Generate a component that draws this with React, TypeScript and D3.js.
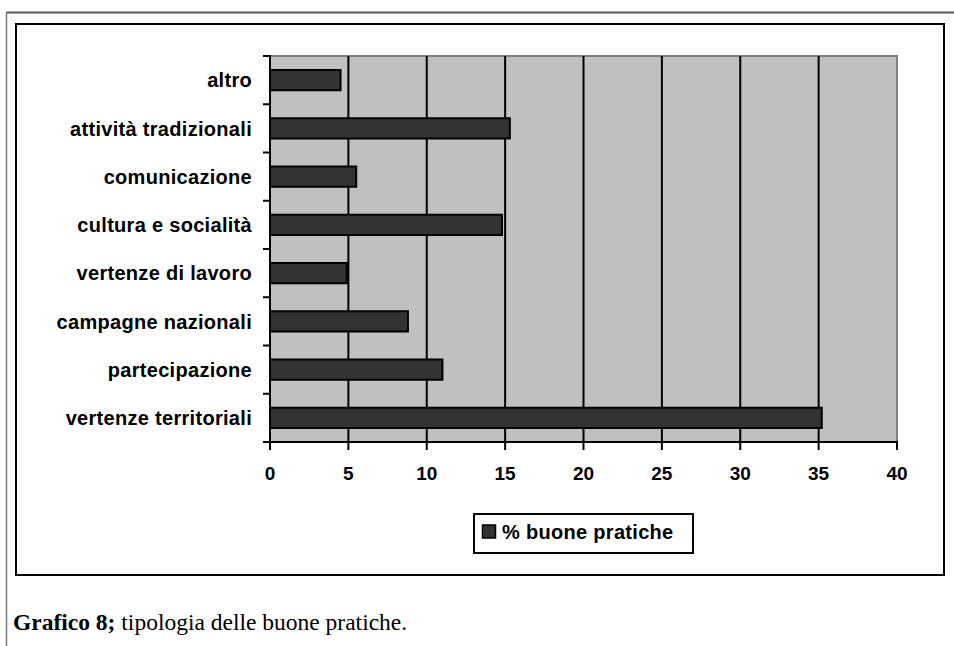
import { useEffect, useRef } from 'react';
import * as d3 from 'd3';

// categories, top to bottom as drawn
const categories = [
  'altro',
  'attività tradizionali',
  'comunicazione',
  'cultura e socialità',
  'vertenze di lavoro',
  'campagne nazionali',
  'partecipazione',
  'vertenze territoriali',
];

const values = [4.5, 15.3, 5.5, 14.8, 4.9, 8.8, 11.0, 35.2];

const xTicks = [0, 5, 10, 15, 20, 25, 30, 35, 40];

const seriesName = '% buone pratiche';

const W = 954;
const H = 646;
const SANS = 'Arial, "Liberation Sans", sans-serif';
const SERIF = '"Times New Roman", "Liberation Serif", serif';

function Chart() {
  const svgRef = useRef<SVGSVGElement>(null);

  useEffect(() => {
    if (!svgRef.current) return;
    const svg = d3.select(svgRef.current);
    svg.selectAll('*').remove();

    const plot = { left: 270, right: 897, top: 56, bottom: 442 };

    // outer page frame
    svg.append('line')
      .attr('x1', 6.5).attr('x2', W).attr('y1', 12.5).attr('y2', 12.5)
      .attr('stroke', '#555').attr('stroke-width', 2);
    svg.append('line')
      .attr('x1', 6.5).attr('x2', 6.5).attr('y1', 12).attr('y2', H)
      .attr('stroke', '#777').attr('stroke-width', 1.5);

    // chart frame
    svg.append('rect')
      .attr('x', 16).attr('y', 24)
      .attr('width', 944 - 16).attr('height', 575 - 24)
      .attr('fill', '#fff').attr('stroke', '#000').attr('stroke-width', 2);

    const xScale = d3.scaleLinear().domain([0, 40]).range([plot.left, plot.right]);
    const yScale = d3.scaleBand().domain(categories).range([plot.top, plot.bottom]).padding(0);
    const step = yScale.step();
    const barH = step * 0.42;

    // plot area
    svg.append('rect')
      .attr('x', plot.left).attr('y', plot.top)
      .attr('width', plot.right - plot.left).attr('height', plot.bottom - plot.top)
      .attr('fill', '#c0c0c0');
    svg.append('path')
      .attr('d', `M${plot.left},${plot.top}H${plot.right}V${plot.bottom}`)
      .attr('fill', 'none').attr('stroke', '#808080').attr('stroke-width', 2);

    // grid lines
    svg.selectAll('line.grid')
      .data(xTicks.filter((d) => d > 0 && d < 40))
      .join('line')
      .attr('class', 'grid')
      .attr('x1', (d) => xScale(d)).attr('x2', (d) => xScale(d))
      .attr('y1', plot.top).attr('y2', plot.bottom)
      .attr('stroke', '#000').attr('stroke-width', 2);

    // bars
    svg.selectAll('rect.bar')
      .data(categories)
      .join('rect')
      .attr('class', 'bar')
      .attr('x', xScale(0))
      .attr('y', (d) => (yScale(d) || 0) + (step - barH) / 2)
      .attr('width', (d, i) => xScale(values[i]) - xScale(0))
      .attr('height', barH)
      .attr('fill', '#333333')
      .attr('stroke', '#000').attr('stroke-width', 2);

    // y axis
    svg.append('line')
      .attr('x1', plot.left).attr('x2', plot.left)
      .attr('y1', plot.top - 1).attr('y2', plot.bottom + 1)
      .attr('stroke', '#000').attr('stroke-width', 2);
    const yBounds = categories.map((c) => yScale(c) || 0).concat([plot.bottom]);
    svg.selectAll('line.ytick')
      .data(yBounds)
      .join('line')
      .attr('class', 'ytick')
      .attr('x1', plot.left - 7).attr('x2', plot.left)
      .attr('y1', (d) => d).attr('y2', (d) => d)
      .attr('stroke', '#000').attr('stroke-width', 2);
    svg.selectAll('text.ylab')
      .data(categories)
      .join('text')
      .attr('class', 'ylab')
      .attr('x', 252)
      .attr('y', (d) => (yScale(d) || 0) + step / 2)
      .attr('dy', '0.36em')
      .attr('text-anchor', 'end')
      .attr('font-family', SANS).attr('font-weight', 'bold').attr('font-size', 20)
      .attr('letter-spacing', 0.3)
      .attr('fill', '#000')
      .text((d) => d);

    // x axis
    svg.append('line')
      .attr('x1', plot.left - 1).attr('x2', plot.right + 1)
      .attr('y1', plot.bottom).attr('y2', plot.bottom)
      .attr('stroke', '#000').attr('stroke-width', 2);
    svg.selectAll('line.xtick')
      .data(xTicks)
      .join('line')
      .attr('class', 'xtick')
      .attr('x1', (d) => xScale(d)).attr('x2', (d) => xScale(d))
      .attr('y1', plot.bottom).attr('y2', plot.bottom + 8)
      .attr('stroke', '#000').attr('stroke-width', 2);
    svg.selectAll('text.xlab')
      .data(xTicks)
      .join('text')
      .attr('class', 'xlab')
      .attr('x', (d) => xScale(d))
      .attr('y', 480)
      .attr('text-anchor', 'middle')
      .attr('font-family', SANS).attr('font-weight', 'bold').attr('font-size', 19)
      .attr('fill', '#000')
      .text((d) => String(d));

    // legend
    const lg = svg.append('g');
    lg.append('rect')
      .attr('x', 474).attr('y', 514).attr('width', 219).attr('height', 39)
      .attr('fill', '#fff').attr('stroke', '#000').attr('stroke-width', 2);
    lg.append('rect')
      .attr('x', 482.5).attr('y', 525).attr('width', 13).attr('height', 13)
      .attr('fill', '#333333').attr('stroke', '#000').attr('stroke-width', 1.5);
    lg.append('text')
      .attr('x', 502).attr('y', 539)
      .attr('font-family', SANS).attr('font-weight', 'bold').attr('font-size', 20)
      .attr('letter-spacing', 0.3)
      .attr('fill', '#000')
      .text(seriesName);

    // caption
    const cap = svg.append('text')
      .attr('x', 13).attr('y', 630)
      .attr('font-family', SERIF).attr('font-size', 23.5)
      .attr('fill', '#000');
    cap.append('tspan').attr('font-weight', 'bold').text('Grafico 8;');
    cap.append('tspan').text(' tipologia delle buone pratiche.');
  }, []);

  return (
    <svg
      ref={svgRef}
      width={W}
      height={H}
      style={{ position: 'absolute', left: 0, top: 0, background: '#fff' }}
    />
  );
}

export default function App() {
  return <Chart />;
}
